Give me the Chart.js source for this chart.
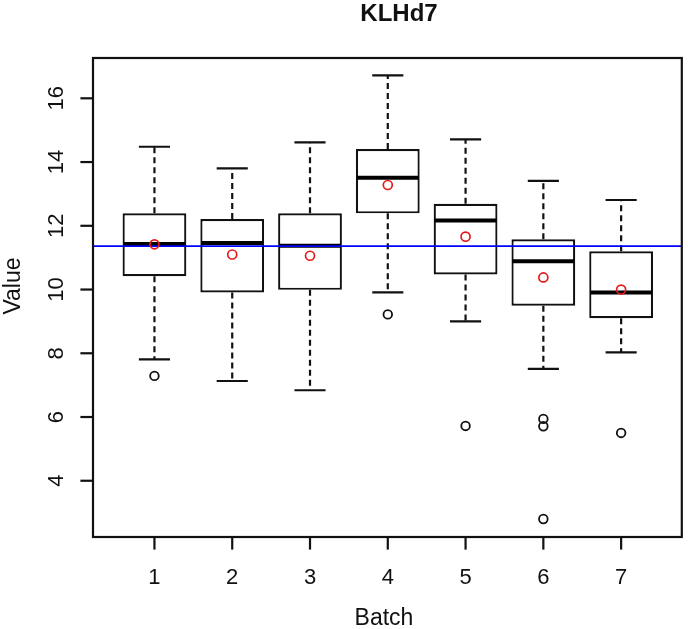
<!DOCTYPE html>
<html>
<head>
<meta charset="utf-8">
<script src="https://cdn.jsdelivr.net/npm/chart.js@4"></script>
<style>
  html, body { margin: 0; padding: 0; background: #fff; }
  #wrap { width: 688px; height: 629px; }
</style>
</head>
<body>
<div id="wrap"><canvas id="c" width="688" height="629"></canvas></div>
<script>
// ---- data ----
const categories   = ['1', '2', '3', '4', '5', '6', '7'];
const positions    = [1, 2, 3, 4, 5, 6, 7];
const whiskerLow   = [7.81, 7.13, 6.84, 9.91, 9.00, 7.51, 8.03];
const q1           = [10.42, 9.91, 9.99, 12.39, 10.47, 9.49, 9.10];
const medians      = [11.43, 11.46, 11.37, 13.51, 12.17, 10.89, 9.91];
const q3           = [12.39, 12.21, 12.39, 14.41, 12.69, 11.58, 11.20];
const whiskerHigh  = [14.48, 13.80, 14.62, 16.72, 14.71, 13.41, 12.81];
const means        = [11.42, 11.10, 11.06, 13.28, 11.66, 10.38, 10.00];
const outliers     = [[7.29], [], [], [9.22], [5.72], [5.94, 5.71, 2.80], [5.50]];
const referenceLine = 11.36;
const yTicks       = [4, 6, 8, 10, 12, 14, 16];
const titleText    = 'KLHd7';
const xTitle       = 'Batch';
const yTitle       = 'Value';

// ---- build library data ----
const boxData = positions.map((p, i) => ({ x: p, y: [q1[i], q3[i]] }));
const meanData = positions.map((p, i) => ({ x: p, y: means[i] }));
const outlierData = [];
outliers.forEach((arr, i) => arr.forEach(v => outlierData.push({ x: positions[i], y: v })));

const X_MIN = 0.21, X_MAX = 7.78, Y_MIN = 2.235, Y_MAX = 17.265;
const FONT = '"Liberation Sans", Arial, "DejaVu Sans", sans-serif';
const INK = '#111';

const boxPlugin = {
  id: 'boxExtras',
  beforeDatasetsDraw(chart) {
    const { ctx, scales: { x, y } } = chart;
    ctx.save();
    ctx.strokeStyle = INK;
    ctx.lineWidth = 2.2;
    const capHalf = (x.getPixelForValue(1.2) - x.getPixelForValue(1));
    positions.forEach((p, i) => {
      const px = x.getPixelForValue(p);
      // dashed whiskers
      ctx.setLineDash([6, 4]);
      ctx.beginPath();
      ctx.moveTo(px, y.getPixelForValue(q3[i]));
      ctx.lineTo(px, y.getPixelForValue(whiskerHigh[i]));
      ctx.moveTo(px, y.getPixelForValue(q1[i]));
      ctx.lineTo(px, y.getPixelForValue(whiskerLow[i]));
      ctx.stroke();
      // staples
      ctx.setLineDash([]);
      ctx.beginPath();
      const yh = y.getPixelForValue(whiskerHigh[i]);
      const yl = y.getPixelForValue(whiskerLow[i]);
      ctx.moveTo(px - capHalf, yh); ctx.lineTo(px + capHalf, yh);
      ctx.moveTo(px - capHalf, yl); ctx.lineTo(px + capHalf, yl);
      ctx.stroke();
    });
    ctx.restore();
  },
  afterDatasetDraw(chart, args) {
    if (args.index !== 0) return;
    const { ctx, scales: { y } } = chart;
    const meta = chart.getDatasetMeta(0);
    ctx.save();
    ctx.strokeStyle = '#000';
    ctx.lineWidth = 4;
    meta.data.forEach((bar, i) => {
      const half = bar.width / 2;
      const py = y.getPixelForValue(medians[i]);
      ctx.beginPath();
      ctx.moveTo(bar.x - half + 1, py);
      ctx.lineTo(bar.x + half - 1, py);
      ctx.stroke();
    });
    ctx.restore();
  },
  afterDraw(chart) {
    const { ctx, chartArea: a, scales: { x, y } } = chart;
    ctx.save();
    // frame
    ctx.strokeStyle = INK;
    ctx.lineWidth = 2.2;
    ctx.strokeRect(a.left, a.top, a.right - a.left, a.bottom - a.top);
    // x ticks
    const tl = 12.6;
    ctx.fillStyle = INK;
    ctx.font = '22px ' + FONT;
    ctx.textAlign = 'center';
    ctx.textBaseline = 'alphabetic';
    positions.forEach((p, i) => {
      const px = x.getPixelForValue(p);
      ctx.beginPath();
      ctx.moveTo(px, a.bottom); ctx.lineTo(px, a.bottom + tl);
      ctx.stroke();
      ctx.fillText(categories[i], px, a.bottom + 47);
    });
    // y ticks
    yTicks.forEach(v => {
      const py = y.getPixelForValue(v);
      ctx.beginPath();
      ctx.moveTo(a.left, py); ctx.lineTo(a.left - tl, py);
      ctx.stroke();
      ctx.save();
      ctx.translate(a.left - 30, py);
      ctx.rotate(-Math.PI / 2);
      ctx.fillText(String(v), 0, 0);
      ctx.restore();
    });
    // titles
    ctx.font = 'bold 24px ' + FONT;
    ctx.fillText(titleText, 399, 21);
    ctx.font = '23px ' + FONT;
    ctx.fillText(xTitle, 384, 625);
    ctx.save();
    ctx.translate(20, 286);
    ctx.rotate(-Math.PI / 2);
    ctx.fillText(yTitle, 0, 0);
    ctx.restore();
    ctx.restore();
  }
};

new Chart(document.getElementById('c'), {
  type: 'scatter',
  data: {
    datasets: [
      {
        type: 'bar',
        label: 'box',
        data: boxData,
        backgroundColor: '#ffffff',
        borderColor: INK,
        borderWidth: 2.2,
        borderSkipped: false,
        categoryPercentage: 1.0,
        barPercentage: 0.82,
        order: 4
      },
      {
        type: 'scatter',
        label: 'outliers',
        data: outlierData,
        pointStyle: 'circle',
        pointRadius: 4.3,
        pointBorderWidth: 1.8,
        pointBorderColor: INK,
        pointBackgroundColor: 'rgba(0,0,0,0)',
        order: 3
      },
      {
        type: 'line',
        label: 'reference',
        data: [{ x: X_MIN, y: referenceLine }, { x: X_MAX, y: referenceLine }],
        borderColor: '#0000ff',
        borderWidth: 1.8,
        pointRadius: 0,
        fill: false,
        order: 2
      },
      {
        type: 'scatter',
        label: 'means',
        data: meanData,
        pointStyle: 'circle',
        pointRadius: 4.5,
        pointBorderWidth: 1.7,
        pointBorderColor: '#e41a1c',
        pointBackgroundColor: 'rgba(0,0,0,0)',
        order: 1
      }
    ]
  },
  options: {
    responsive: false,
    animation: false,
    events: [],
    layout: { padding: { left: 93, top: 58, right: 3, bottom: 92 } },
    scales: {
      x: { type: 'linear', min: X_MIN, max: X_MAX, offset: false, display: false,
           afterBuildTicks: s => { s.ticks = positions.map(v => ({ value: v })); } },
      y: { type: 'linear', min: Y_MIN, max: Y_MAX, display: false,
           afterBuildTicks: s => { s.ticks = yTicks.map(v => ({ value: v })); } }
    },
    plugins: { legend: { display: false }, tooltip: { enabled: false }, title: { display: false } }
  },
  plugins: [boxPlugin]
});
</script>
</body>
</html>
